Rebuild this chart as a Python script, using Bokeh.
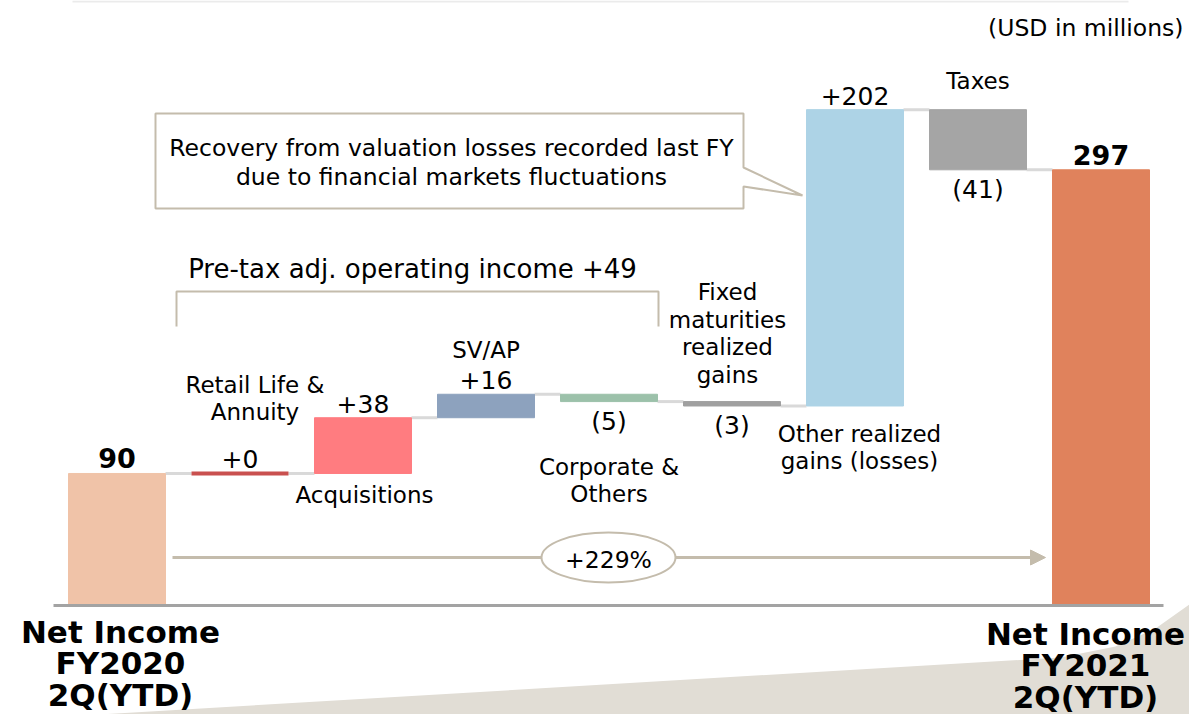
from bokeh.plotting import figure
from bokeh.models import Range1d, Arrow, NormalHead, ColumnDataSource
from bokeh.core.properties import value
from bokeh.embed import file_html
from bokeh.resources import INLINE

# ---------------- data ----------------
categories = [
    "Net Income\nFY2020\n2Q(YTD)",
    "Retail Life &\nAnnuity",
    "Acquisitions",
    "SV/AP",
    "Corporate &\nOthers",
    "Fixed\nmaturities\nrealized\ngains",
    "Other realized\ngains (losses)",
    "Taxes",
    "Net Income\nFY2021\n2Q(YTD)",
]
start_total = 90
deltas = [0, 38, 16, -5, -3, 202, -41]
end_total = 297
value_labels = ["90", "+0", "+38", "+16", "(5)", "(3)", "+202", "(41)", "297"]
bar_colors = ["#F0C3A8", "#C9504F", "#FF7C80", "#8DA2BE", "#9CC1AA",
              "#A0A0A0", "#ADD3E6", "#A5A5A5", "#E0825C"]
growth_label = "+229%"
bracket_label = "Pre-tax adj. operating income +49"
callout_lines = ["Recovery from valuation losses recorded last FY",
                 "due to financial markets fluctuations"]
unit_label = "(USD in millions)"

# ---------------- layout helpers (pixel -> data) ----------------
W, H = 1189, 714
X0, DX = 116.5, 123.0     # px of category 0, px per category
Y0, DY = 605.0, 1.467     # px of value 0, px per unit

def fx(px):
    return (px - X0) / DX

def fy(py):
    return (Y0 - py) / DY

FONT = value("DejaVu Sans")
TAN = "#C4BCAC"
BAR_W = 97 / DX

# waterfall geometry from the data
n = len(categories)
xs = list(range(n))
bottoms, tops, levels = [0], [start_total], [start_total]
run = start_total
for d in deltas:
    new = run + d
    bottoms.append(min(run, new))
    tops.append(max(run, new))
    run = new
    levels.append(run)
bottoms.append(0)
tops.append(end_total)
levels.append(end_total)
signs = [1] + [1 if d >= 0 else -1 for d in deltas] + [1]

p = figure(width=W, height=H, output_backend="svg", toolbar_location=None,
           x_range=Range1d(fx(0), fx(W)), y_range=Range1d(fy(H), fy(0)),
           x_axis_type=None, y_axis_type=None, min_border=0,
           outline_line_color=None)
p.grid.visible = False
p.background_fill_color = "white"
p.border_fill_color = "white"

# top rule
p.segment(x0=fx(72), y0=fy(1), x1=fx(1128), y1=fy(1), line_color="#EBEBEB", line_width=2)

# bottom page-curl decoration
curl_px = [(99, 714), (1060, 657), (1115, 646), (1155, 628), (1189, 604), (1189, 714)]
p.patch([fx(a) for a, b in curl_px], [fy(b) for a, b in curl_px],
        fill_color="#E1DDD5", line_color=None)

# growth arrow (below the ellipse)
p.add_layout(Arrow(end=NormalHead(size=15, fill_color=TAN, line_color=TAN),
                   x_start=fx(172), y_start=fy(557), x_end=fx(1045), y_end=fy(557),
                   line_color=TAN, line_width=3, level="underlay"))

# connectors
for i in range(n - 1):
    p.segment(x0=i + BAR_W / 2, y0=levels[i], x1=i + 1 - BAR_W / 2, y1=levels[i],
              line_color="#D9D9D9", line_width=3)

# bars
src = ColumnDataSource(dict(
    left=[x - BAR_W / 2 for x in xs], right=[x + BAR_W / 2 for x in xs],
    bottom=bottoms, top=tops, color=bar_colors,
    lw=[4 if t - b < 1 else 1 for b, t in zip(bottoms, tops)]))
p.quad(left="left", right="right", bottom="bottom", top="top", source=src,
       fill_color="color", line_color="color", line_width="lw")

# baseline
p.segment(x0=fx(53), y0=0, x1=fx(1163), y1=0, line_color="#A3A3A3", line_width=3)

# value labels
for i in range(n):
    bold = i in (0, n - 1)
    if signs[i] > 0:
        y, base, off = tops[i], "bottom", (-5 if bold else -5)
    else:
        y, base, off = bottoms[i], "top", 5
    p.text(x=[xs[i]], y=[y], text=[value_labels[i]], text_font=FONT,
           text_font_size=value("27px" if bold else "25px"),
           text_font_style="bold" if bold else "normal",
           text_align="center", text_baseline=base, y_offset=off,
           text_color="#000000")

# category labels: (dx px from bar centre, y of block centre)
cat_pos = [(3.5, 663), (15, 398), (1.5, 494), (0, 349), (0, 480),
           (-4.5, 333), (4.5, 447), (0, 80), (-15.5, 665)]
for i, (dx, cy) in enumerate(cat_pos):
    big = i in (0, n - 1)
    p.text(x=[xs[i] + dx / DX], y=[fy(cy)], text=[categories[i]], text_font=FONT,
           text_font_size=value("31px" if big else "23px"),
           text_font_style="bold" if big else "normal",
           text_line_height=0.887 if big else 1.07,
           text_align="center", text_baseline="middle", text_color="#000000")

# callout box
box = [(155, 113), (743, 113), (743, 167), (802, 195), (743, 186), (743, 208), (155, 208)]
p.patch([fx(a) for a, b in box], [fy(b) for a, b in box],
        fill_color="white", line_color=TAN, line_width=2)
p.text(x=[fx(451)] * 2, y=[fy(147), fy(176)], text=callout_lines, text_font=FONT,
       text_font_size=value("23.5px"), text_align="center", text_baseline="middle",
       text_color="#000000")

# bracket
p.line([fx(176), fx(176), fx(658), fx(658)], [fy(326), fy(291), fy(291), fy(326)],
       line_color=TAN, line_width=2)
p.text(x=[fx(412)], y=[fy(268)], text=[bracket_label], text_font=FONT,
       text_font_size=value("26px"), text_align="center", text_baseline="middle",
       text_color="#000000")

# growth ellipse
p.ellipse(x=[fx(608)], y=[fy(557)], width=[134], height=[50],
          width_units="screen", height_units="screen",
          fill_color="white", line_color=TAN, line_width=2)
p.text(x=[fx(608)], y=[fy(559)], text=[growth_label], text_font=FONT,
       text_font_size=value("23.5px"), text_align="center", text_baseline="middle",
       text_color="#000000")

# unit label
p.text(x=[fx(1183)], y=[fy(27)], text=[unit_label], text_font=FONT,
       text_font_size=value("23.5px"), text_align="right", text_baseline="middle",
       text_color="#000000")

open("out.html", "w").write(file_html(p, INLINE))
